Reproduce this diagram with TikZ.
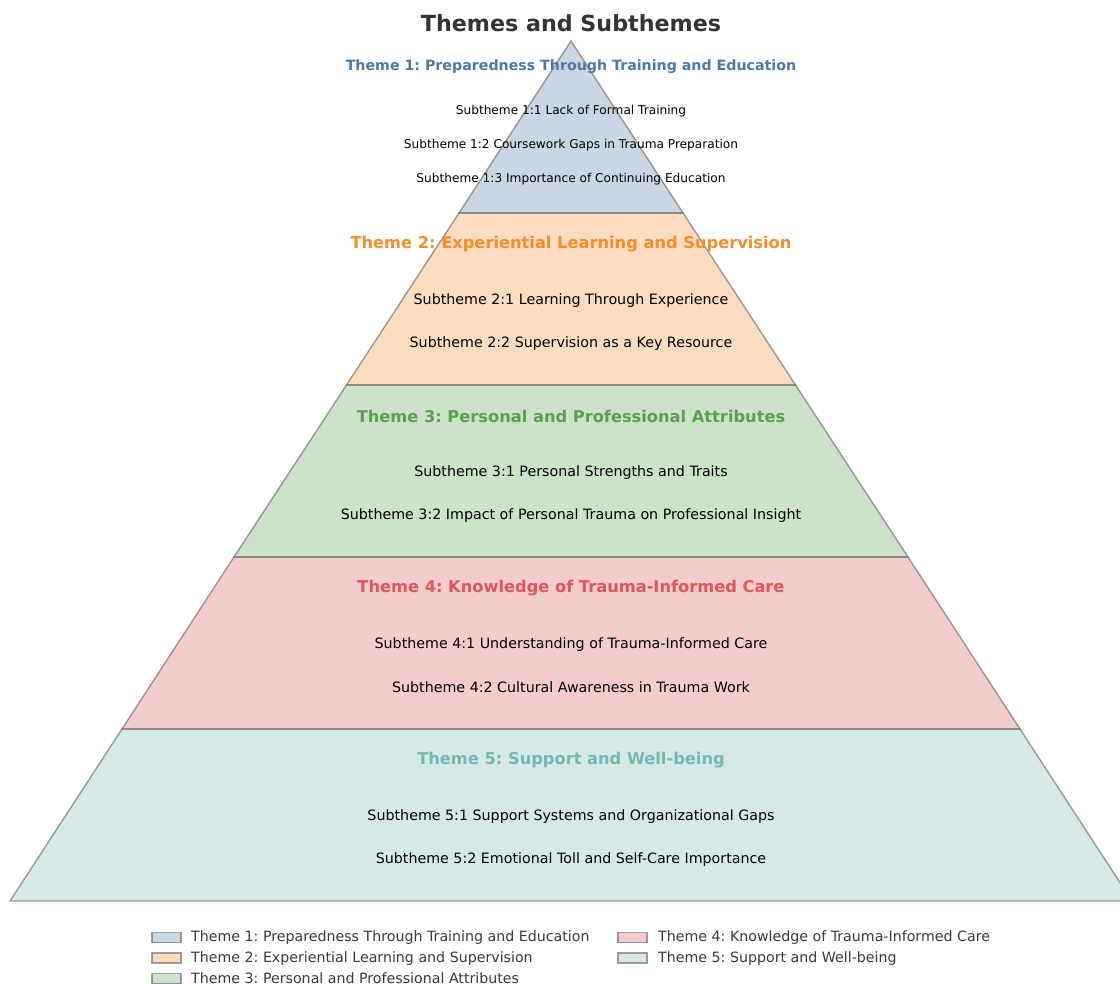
\documentclass[tikz,border=0pt]{standalone}
\usepackage{fontspec}
\setmainfont{DejaVu Sans}
\definecolor{cA}{HTML}{4E79A7}
\definecolor{cB}{HTML}{F28E2B}
\definecolor{cC}{HTML}{59A14F}
\definecolor{cD}{HTML}{E15759}
\definecolor{cE}{HTML}{76B7B2}
\definecolor{titlegrey}{HTML}{333333}
\definecolor{legendgrey}{HTML}{3A3A3A}
\definecolor{edgegrey}{HTML}{606060}
\begin{document}
\frenchspacing
\begin{tikzpicture}[x=1pt,y=-1pt,
  layerfill/.style={fill=#1, fill opacity=0.3},
  layeredge/.style={draw=edgegrey, draw opacity=0.6, line width=1.4pt, line join=miter},
  legpatch/.style={fill=#1, fill opacity=0.3, draw=edgegrey, draw opacity=0.6, line width=1.2pt},
  bigtitle/.style={font=\fontsize{22.2}{26}\selectfont\bfseries, text=titlegrey, inner sep=0pt},
  themetitle/.style={font=\fontsize{16.25}{19}\selectfont\bfseries, text=#1, inner sep=0pt},
  smalltheme/.style={font=\fontsize{14.2}{17}\selectfont\bfseries, text=#1, inner sep=0pt},
  sub/.style={font=\fontsize{14.25}{17}\selectfont, text=black, inner sep=0pt},
  smallsub/.style={font=\fontsize{12.15}{14}\selectfont, text=black, inner sep=0pt},
  legtext/.style={font=\fontsize{14.2}{17}\selectfont, text=legendgrey, inner sep=0pt, anchor=west}
]
\useasboundingbox (0,0) rectangle (1120,985);
\clip (0,0) rectangle (1120,985);
\fill[white] (0,0) rectangle (1120,985);

% pyramid layer corners
\coordinate (apex) at (571,41);
\coordinate (a1l) at (459,213);     \coordinate (a1r) at (683,213);
\coordinate (a2l) at (346.5,385);   \coordinate (a2r) at (795.5,385);
\coordinate (a3l) at (234,557);     \coordinate (a3r) at (908,557);
\coordinate (a4l) at (122,729);     \coordinate (a4r) at (1020,729);
\coordinate (a5l) at (10,901);      \coordinate (a5r) at (1132,901);

% fills
\fill[layerfill=cE] (a5l) -- (a4l) -- (a4r) -- (a5r) -- cycle;
\fill[layerfill=cD] (a4l) -- (a3l) -- (a3r) -- (a4r) -- cycle;
\fill[layerfill=cC] (a3l) -- (a2l) -- (a2r) -- (a3r) -- cycle;
\fill[layerfill=cB] (a2l) -- (a1l) -- (a1r) -- (a2r) -- cycle;
\fill[layerfill=cA] (a1l) -- (apex) -- (a1r) -- cycle;

% outlines (shared edges drawn twice, as in the reference)
\draw[layeredge] (a5l) -- (a4l) -- (a4r) -- (a5r) -- cycle;
\draw[layeredge] (a4l) -- (a3l) -- (a3r) -- (a4r) -- cycle;
\draw[layeredge] (a3l) -- (a2l) -- (a2r) -- (a3r) -- cycle;
\draw[layeredge] (a2l) -- (a1l) -- (a1r) -- (a2r) -- cycle;
\draw[layeredge] (a1l) -- (apex) -- (a1r) -- cycle;

% title
\node[bigtitle] (title) at (571,23.5) {Themes and Subthemes};

% theme 1
\node[smalltheme=cA] (t1) at (571,66.5) {Theme 1: Preparedness Through Training and Education};
\node[smallsub] (s11) at (571,111.5) {Subtheme 1:1 Lack of Formal Training};
\node[smallsub] (s12) at (571,145.5) {Subtheme 1:2 Coursework Gaps in Trauma Preparation};
\node[smallsub] (s13) at (571,179.5) {Subtheme 1:3 Importance of Continuing Education};

% theme 2
\node[themetitle=cB] (t2) at (571,244.5) {Theme 2: Experiential Learning and Supervision};
\node[sub] (s21) at (571,300.5) {Subtheme 2:1 Learning Through Experience};
\node[sub] (s22) at (571,343.5) {Subtheme 2:2 Supervision as a Key Resource};

% theme 3
\node[themetitle=cC] (t3) at (571,416.5) {Theme 3: Personal and Professional Attributes};
\node[sub] (s31) at (571,472.5) {Subtheme 3:1 Personal Strengths and Traits};
\node[sub] (s32) at (571,515.5) {Subtheme 3:2 Impact of Personal Trauma on Professional Insight};

% theme 4
\node[themetitle=cD] (t4) at (571,588.5) {Theme 4: Knowledge of Trauma-Informed Care};
\node[sub] (s41) at (571,644.5) {Subtheme 4:1 Understanding of Trauma-Informed Care};
\node[sub] (s42) at (571,687.5) {Subtheme 4:2 Cultural Awareness in Trauma Work};

% theme 5
\node[themetitle=cE] (t5) at (571,760.5) {Theme 5: Support and Well-being};
\node[sub] (s51) at (571,816.5) {Subtheme 5:1 Support Systems and Organizational Gaps};
\node[sub] (s52) at (571,859.5) {Subtheme 5:2 Emotional Toll and Self-Care Importance};

% legend
\draw[legpatch=cA] (152,932.5) rectangle (181,942.5);
\node[legtext] (l1) at (191,938) {Theme 1: Preparedness Through Training and Education};
\draw[legpatch=cB] (152,953) rectangle (181,963);
\node[legtext] (l2) at (191,958.3) {Theme 2: Experiential Learning and Supervision};
\draw[legpatch=cC] (152,973.5) rectangle (181,983.5);
\node[legtext] (l3) at (191,978) {Theme 3: Personal and Professional Attributes};
\draw[legpatch=cD] (618,932.5) rectangle (647,942.5);
\node[legtext] (l4) at (658,938) {Theme 4: Knowledge of Trauma-Informed Care};
\draw[legpatch=cE] (618,953) rectangle (647,963);
\node[legtext] (l5) at (658,958.3) {Theme 5: Support and Well-being};
\end{tikzpicture}
\end{document}
